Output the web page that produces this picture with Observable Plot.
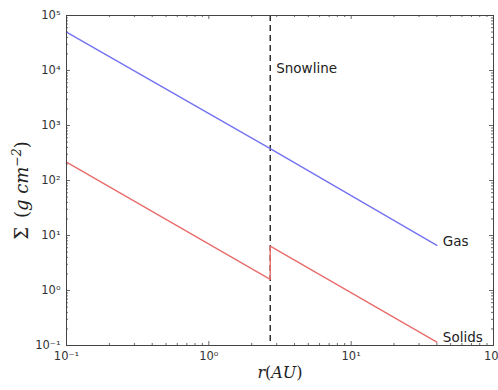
<!DOCTYPE html>
<html>
<head>
<meta charset="utf-8">
<script src="https://cdn.jsdelivr.net/npm/d3@7"></script>
<script src="https://cdn.jsdelivr.net/npm/@observablehq/plot@0.6"></script>
<style>
  html, body { margin: 0; padding: 0; background: #fff; }
</style>
</head>
<body>
<div id="chart"></div>
<script>
// ---- data ----
const gasR = [0.1, 2.7, 40];
const gasSigma = [50000, 380, 6.6];
const solidsR = [0.1, 2.7, 2.7, 40];
const solidsSigma = [215, 1.6, 6.4, 0.115];
const snowlineR = [2.7];
const xMajorTicks = [0.1, 1, 10, 100];
const yMajorTicks = [0.1, 1, 10, 100, 1000, 10000, 100000];
const seriesLabels = ["Gas", "Solids"];

const gas = gasR.map((r, i) => ({r, s: gasSigma[i]}));
const solids = solidsR.map((r, i) => ({r, s: solidsSigma[i]}));
const labelPts = [
  {r: gasR[gasR.length - 1], s: gasSigma[gasSigma.length - 1], t: seriesLabels[0]},
  {r: solidsR[solidsR.length - 1], s: solidsSigma[solidsSigma.length - 1], t: seriesLabels[1]}
];

function minorOf(major) {
  const out = [];
  for (let i = 0; i < major.length - 1; i++)
    for (let k = 2; k <= 9; k++) out.push(major[i] * k);
  return out;
}
const xMinor = minorOf(xMajorTicks);
const yMinor = minorOf(yMajorTicks);

const sup = {"-": "\u207B", "0": "\u2070", "1": "\u00B9", "2": "\u00B2", "3": "\u00B3", "4": "\u2074", "5": "\u2075"};
const fmt = d => "10" + String(Math.round(Math.log10(d))).split("").map(c => sup[c]).join("");

const W = 498, H = 390;
const mL = 66, mR = 5, mT = 15, mB = 45;
const fw = W - mL - mR, fh = H - mT - mB;
const maj = 4, mnr = 2;

const tickStyle = {stroke: "#444", strokeWidth: 0.8};

const chart = Plot.plot({
  width: W, height: H,
  marginLeft: mL, marginRight: mR, marginTop: mT, marginBottom: mB,
  style: {fontFamily: "DejaVu Sans", color: "#333", background: "#fff"},
  x: {type: "log", domain: [0.1, 100]},
  y: {type: "log", domain: [0.1, 100000]},
  marks: [
    // inward ticks on all four sides
    Plot.tickX(xMajorTicks, {x: d => d, insetTop: fh - maj, ...tickStyle}),
    Plot.tickX(xMajorTicks, {x: d => d, insetBottom: fh - maj, ...tickStyle}),
    Plot.tickX(xMinor, {x: d => d, insetTop: fh - mnr, ...tickStyle}),
    Plot.tickX(xMinor, {x: d => d, insetBottom: fh - mnr, ...tickStyle}),
    Plot.tickY(yMajorTicks, {y: d => d, insetRight: fw - maj, ...tickStyle}),
    Plot.tickY(yMajorTicks, {y: d => d, insetLeft: fw - maj, ...tickStyle}),
    Plot.tickY(yMinor, {y: d => d, insetRight: fw - mnr, ...tickStyle}),
    Plot.tickY(yMinor, {y: d => d, insetLeft: fw - mnr, ...tickStyle}),
    Plot.axisX(xMajorTicks, {tickSize: 0, tickPadding: 6, tickFormat: fmt, fontSize: 11.5, label: null}),
    Plot.axisY(yMajorTicks, {tickSize: 0, tickPadding: 6, tickFormat: fmt, fontSize: 11.5, label: null}),
    Plot.ruleX(snowlineR, {stroke: "#111", strokeWidth: 1.3, strokeDasharray: "6,4"}),
    Plot.line(gas, {x: "r", y: "s", stroke: "#7373f2", strokeWidth: 1.4}),
    Plot.line(solids, {x: "r", y: "s", stroke: "#e96d6d", strokeWidth: 1.4}),
    Plot.text(labelPts, {x: "r", y: "s", text: "t", textAnchor: "start", dx: 6, dy: -4, fontSize: 13.5, fill: "#222"}),
    Plot.text(["Snowline"], {x: snowlineR[0], y: 11000, text: d => d, textAnchor: "start", dx: 6, fontSize: 13.5, fill: "#222"}),
    Plot.text(["r(AU)"], {frameAnchor: "bottom", textAnchor: "middle", dy: 32, fontSize: 16, fill: "#222"}),
    Plot.text(["\u03A3 (g cm-2)"], {frameAnchor: "left", textAnchor: "middle", dx: -44, dy: 10, rotate: -90, fontSize: 18, fill: "#222"}),
    Plot.frame({stroke: "#444", strokeWidth: 1})
  ]
});
document.getElementById("chart").appendChild(chart);

// mathtext-like styling of the axis titles
const svg = d3.select(chart);
svg.selectAll("text").filter(function() { return this.textContent === "r(AU)"; }).each(function() {
  const t = d3.select(this).text(null).style("font-family", "DejaVu Serif");
  t.append("tspan").attr("font-style", "italic").text("r");
  t.append("tspan").text("(");
  t.append("tspan").attr("font-style", "italic").text("AU");
  t.append("tspan").text(")");
});
svg.selectAll("text").filter(function() { return this.textContent === "\u03A3 (g cm-2)"; }).each(function() {
  const t = d3.select(this).text(null).style("font-family", "DejaVu Serif");
  t.append("tspan").text("\u03A3\u2002(");
  t.append("tspan").attr("font-style", "italic").text("g cm");
  t.append("tspan").attr("font-style", "italic").attr("font-size", 12.5).attr("dy", -7).text("\u2212" + "2");
  t.append("tspan").attr("dy", 7).text(")");
});
</script>
</body>
</html>
